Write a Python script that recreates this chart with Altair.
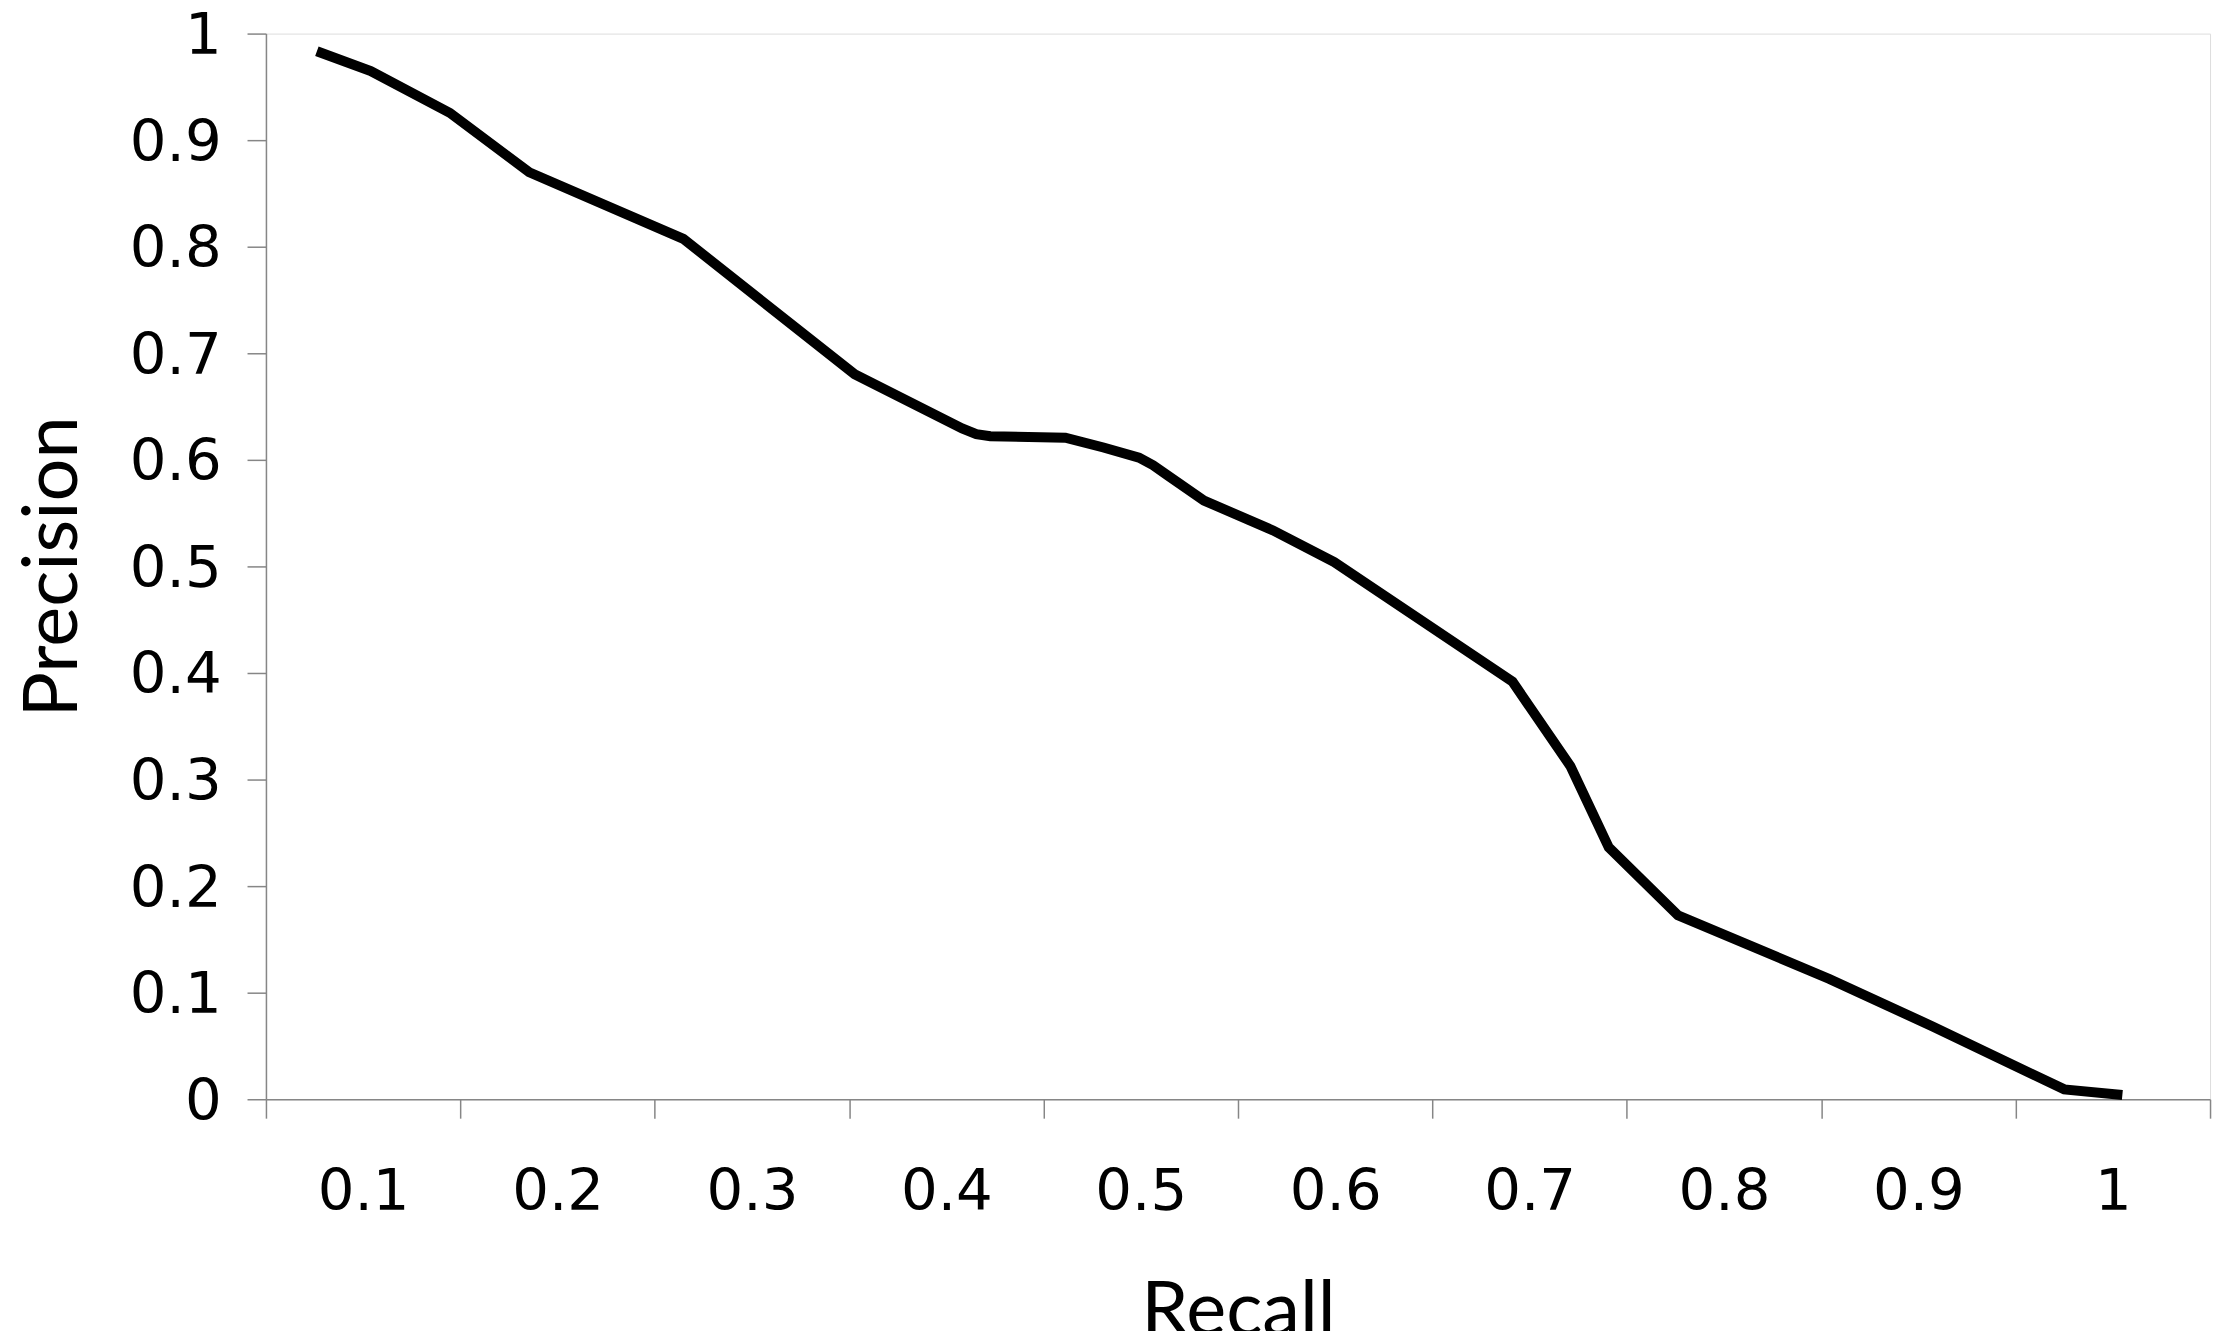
import altair as alt
import pandas as pd

recall = [0.0762, 0.1039, 0.1446, 0.1854, 0.2647, 0.3528, 0.4081, 0.4154, 0.4226,
          0.4612, 0.4808, 0.4991, 0.5063, 0.5136, 0.5325, 0.5680, 0.5995, 0.6912,
          0.7210, 0.7407, 0.7763, 0.8542, 0.9073, 0.9750, 1.0049]
precision = [0.9834, 0.9648, 0.9256, 0.8699, 0.8074, 0.6803, 0.6295, 0.6242, 0.6222,
             0.6208, 0.6116, 0.6021, 0.5950, 0.5857, 0.5618, 0.5338, 0.5040, 0.3918,
             0.3126, 0.2364, 0.1726, 0.1129, 0.0683, 0.0093, 0.0040]

x_axis_values = [round(0.05 + 0.05 * i, 2) for i in range(21)]
y_axis_values = [round(0.1 * i, 1) for i in range(11)]

df = pd.DataFrame({"Recall": recall, "Precision": precision, "order": list(range(len(recall)))})

label_font = "DejaVu Sans"
title_font = "Lato"
axis_gray = "#868686"

x_axis = alt.Axis(
    values=x_axis_values,
    labelExpr="round(datum.value*20) % 2 == 0 ? format(datum.value, '~g') : ''",
    tickOpacity={"condition": {"test": "round(datum.value*20) % 2 == 1", "value": 1}, "value": 0},
    labelOverlap=False,
    labelFlush=False,
    grid=False,
    tickSize=19,
    tickWidth=1.5,
    tickColor=axis_gray,
    domainColor=axis_gray,
    domainWidth=1.5,
    labelFont=label_font,
    labelFontSize=58,
    labelColor="black",
    labelBaseline="alphabetic",
    labelPadding=92,
    title="Recall",
    titleFont=title_font,
    titleFontSize=76,
    titleFontWeight="normal",
    titleColor="black",
    titleBaseline="alphabetic",
    titleAlign="center",
    titleX=976,
    titleY=236,
)

y_axis = alt.Axis(
    values=y_axis_values,
    labelExpr="format(datum.value, '~g')",
    labelOverlap=False,
    labelFlush=False,
    grid=False,
    tickSize=19,
    tickWidth=1.5,
    tickColor=axis_gray,
    domainColor=axis_gray,
    domainWidth=1.5,
    labelFont=label_font,
    labelFontSize=58,
    labelColor="black",
    labelBaseline="alphabetic",
    labelOffset=20,
    labelPadding=26,
    title="Precision",
    titleFont=title_font,
    titleFontSize=76,
    titleFontWeight="normal",
    titleColor="black",
    titleAngle=270,
    titleBaseline="alphabetic",
    titleAlign="center",
    titleX=-190,
    titleY=535,
)

chart = (
    alt.Chart(df)
    .mark_line(color="black", strokeWidth=10, strokeCap="butt", strokeJoin="miter")
    .encode(
        x=alt.X("Recall:Q", scale=alt.Scale(domain=[0.05, 1.05], nice=False, zero=False), axis=x_axis),
        y=alt.Y("Precision:Q", scale=alt.Scale(domain=[0, 1], nice=False, zero=False), axis=y_axis),
        order="order:Q",
    )
    .properties(
        width=1952,
        height=1070,
        autosize=alt.AutoSizeParams(type="none"),
        padding={"left": 259, "top": 23, "right": 10, "bottom": 230},
    )
    .configure_view(stroke=None)
    .configure(background="white")
)

chart.save("out.html", embed_options={"renderer": "svg", "actions": False})
